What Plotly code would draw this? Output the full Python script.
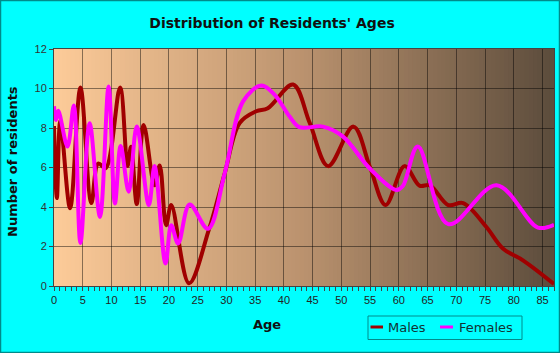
import plotly.graph_objects as go

# ---- data ----
ages_m = [0, 0.5, 1.1, 2.8, 4.6, 6.5, 7.7, 9.0, 11.5, 12.8, 13.4, 14.4, 15.6, 17.5, 18.4,
          19.5, 20.4, 23.5, 27, 29.7, 32.3, 35.2, 37.2, 41.6, 44.5, 47.7, 52.1, 55, 57.7,
          61, 63.6, 65.4, 68.6, 71.2, 75.2, 78.1, 81.6, 87]
males = [8.1, 4.45, 8.36, 3.94, 10.05, 4.2, 6.2, 5.97, 10.05, 6.08, 7.05, 4.15, 8.15, 5.1, 6.1,
         3.08, 4.1, 0.14, 2.9, 5.7, 8.25, 8.85, 9.0, 10.2, 8.25, 6.07, 8.07, 6.0, 4.1,
         6.07, 5.08, 5.1, 4.1, 4.2, 3.0, 1.9, 1.3, 0.1]

ages_f = [0, 0.35, 0.75, 2.35, 3.45, 4.6, 6.2, 8.0, 9.5, 10.6, 11.6, 13.0, 14.4, 16.5, 17.5,
          19.4, 20.4, 21.6, 23.6, 26.8, 29.7, 32.9, 36.1, 38.4, 41, 42.7, 46.8, 50.3, 54.9,
          59.6, 60.7, 63.3, 68.6, 77, 84.2, 87]
females = [9.1, 8.4, 8.87, 7.06, 9.14, 2.18, 8.24, 3.5, 10.1, 4.18, 7.09, 4.77, 8.07, 4.1, 6.07,
           1.14, 3.08, 2.15, 4.13, 2.9, 5.7, 9.35, 10.15, 9.68, 8.58, 8.04, 8.07, 7.56, 5.96,
           4.86, 5.06, 7.06, 3.13, 5.1, 2.96, 3.1]

x_ticks = list(range(0, 90, 5))
y_ticks = list(range(0, 13, 2))

title = "Distribution of Residents' Ages"
x_title = "Age"
y_title = "Number of residents"
legend_names = ["Males", "Females"]
colors = ["#A00000", "#FF00FF"]

# ---- layout geometry ----
W, H = 560, 353
L, R, T, B = 54, 6, 49, 67
PW, PH = W - L - R, H - T - B
XMAX = 87


def px(xp):
    return (xp - L) / PW


def py(yp):
    return (H - B - yp) / PH


fig = go.Figure()
fig.add_trace(go.Scatter(x=ages_m, y=males, mode="lines", name=legend_names[0],
                         line=dict(color=colors[0], width=4, shape="spline", smoothing=1.0)))
fig.add_trace(go.Scatter(x=ages_f, y=females, mode="lines", name=legend_names[1],
                         line=dict(color=colors[1], width=4, shape="spline", smoothing=1.0)))

shapes = []
# background gradient strips
stops = [(0.0, (253, 203, 153)), (0.5, (186, 146, 110)), (1.0, (92, 76, 60))]


def grad(t):
    for (t0, c0), (t1, c1) in zip(stops[:-1], stops[1:]):
        if t <= t1:
            f = (t - t0) / (t1 - t0)
            return tuple(int(round(a + (b - a) * f)) for a, b in zip(c0, c1))
    return stops[-1][1]


N = 120
for i in range(N):
    t = (i + 0.5) / N
    r, g, b = grad(t)
    shapes.append(dict(type="rect", xref="x domain", yref="y domain",
                       x0=i / N, x1=(i + 1) / N + 0.002, y0=0, y1=1,
                       fillcolor=f"rgb({r},{g},{b})", line=dict(width=0), layer="below"))

# outer border
shapes.append(dict(type="rect", xref="paper", yref="paper",
                   x0=px(0.5), x1=px(W - 0.5), y0=py(H - 0.5), y1=py(0.5),
                   line=dict(color="#008B8B", width=1.5), fillcolor="rgba(0,0,0,0)"))
# legend box
shapes.append(dict(type="rect", xref="paper", yref="paper",
                   x0=px(368), x1=px(522), y0=py(339.5), y1=py(316),
                   line=dict(color="#008B8B", width=1), fillcolor="rgba(0,0,0,0)"))
shapes.append(dict(type="line", xref="paper", yref="paper",
                   x0=px(370.5), x1=px(383), y0=py(327), y1=py(327),
                   line=dict(color=colors[0], width=3)))
shapes.append(dict(type="line", xref="paper", yref="paper",
                   x0=px(440), x1=px(453), y0=py(327), y1=py(327),
                   line=dict(color=colors[1], width=3)))

annotations = [
    dict(text=x_title, xref="paper", yref="paper", x=px(267), y=py(324),
         xanchor="center", yanchor="middle", showarrow=False,
         font=dict(family="DejaVu Sans", size=13, color="#111")),
    dict(text=y_title, xref="paper", yref="paper", x=px(12), y=py(162),
         xanchor="center", yanchor="middle", showarrow=False, textangle=-90,
         font=dict(family="DejaVu Sans", size=13, color="#111")),
    dict(text=legend_names[0], xref="paper", yref="paper", x=px(386), y=py(327.5),
         xanchor="left", yanchor="middle", showarrow=False,
         font=dict(family="DejaVu Sans", size=13, color="#113333")),
    dict(text=legend_names[1], xref="paper", yref="paper", x=px(457), y=py(327.5),
         xanchor="left", yanchor="middle", showarrow=False,
         font=dict(family="DejaVu Sans", size=13, color="#113333")),
]
annotations[0]["text"] = "<b>" + x_title + "</b>"
annotations[1]["text"] = "<b>" + y_title + "</b>"

fig.update_layout(
    width=W, height=H,
    margin=dict(l=L, r=R, t=T, b=B),
    paper_bgcolor="#00FFFF",
    plot_bgcolor="#FDCB99",
    showlegend=False,
    title=dict(text="<b>" + title + "</b>", x=272 / W, xanchor="center",
               y=1 - 23 / H, yanchor="middle",
               font=dict(family="DejaVu Sans", size=14, color="#111")),
    shapes=shapes,
    annotations=annotations,
    xaxis=dict(range=[0, XMAX], tickvals=x_ticks, ticks="outside", ticklen=4,
               tickcolor="#444", showgrid=True, gridcolor="rgba(0,0,0,0.45)", gridwidth=1,
               showline=True, linecolor="#444", mirror=True, zeroline=False,
               minor=dict(dtick=1, ticks="outside", ticklen=4, tickcolor="#444", showgrid=False),
               tickfont=dict(family="Liberation Sans", size=11, color="#222")),
    yaxis=dict(range=[0, 12], tickvals=y_ticks, ticks="outside", ticklen=4,
               tickcolor="#444", showgrid=True, gridcolor="rgba(0,0,0,0.45)", gridwidth=1,
               showline=True, linecolor="#444", mirror=True, zeroline=False,
               tickfont=dict(family="Liberation Sans", size=11, color="#333")),
)

fig.write_html("out.html")
